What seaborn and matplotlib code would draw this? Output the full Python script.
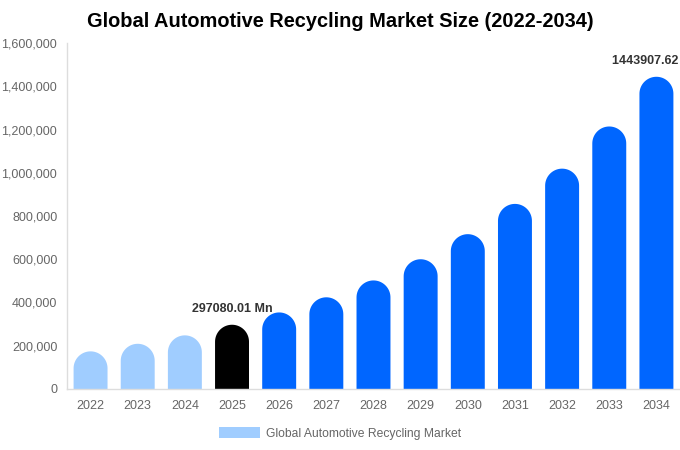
import numpy as np
import seaborn as sns
import pandas as pd
import matplotlib.pyplot as plt
from matplotlib.patches import Polygon, Patch
from matplotlib.ticker import FuncFormatter

years = ["2022", "2023", "2024", "2025", "2026", "2027", "2028",
         "2029", "2030", "2031", "2032", "2033", "2034"]
market_size = [174000, 209000, 248000, 297080.01, 354000, 424000, 502000,
               600000, 716000, 856000, 1019000, 1214000, 1443907.62]
label_years = ["2025", "2034"]

light_blue = "#a0cdff"
blue = "#0066ff"
colors = []
for y in years:
    if y < "2025":
        colors.append(light_blue)
    elif y == "2025":
        colors.append("#000000")
    else:
        colors.append(blue)

sns.set_theme(style="white")
plt.rcParams["font.family"] = ["Liberation Sans", "DejaVu Sans"]

fig = plt.figure(figsize=(6.8, 4.5), dpi=100)
ax = fig.add_axes([0.0985, 0.1356, 0.9015, 0.7688])

df = pd.DataFrame({"year": years, "value": market_size})
sns.barplot(data=df, x="year", y="value", hue="year", palette=colors,
            saturation=1, legend=False, width=0.72, ax=ax)
ax.set_ylim(0, 1600000)
ax.set_xlim(-0.5, len(years) - 0.5)

# swap the plain bars for ones with a rounded top
fig.canvas.draw()
px_x = ax.transData.transform((1, 0))[0] - ax.transData.transform((0, 0))[0]
px_y = ax.transData.transform((0, 1))[1] - ax.transData.transform((0, 0))[1]
aspect = px_x / px_y
t = np.linspace(0, np.pi, 40)
for bar in list(ax.patches):
    x = bar.get_x()
    w = bar.get_width()
    h = bar.get_height()
    c = bar.get_facecolor()
    bar.remove()
    rx = w / 2
    ry = rx * aspect
    cx = x + rx
    cy = h - ry
    pts = [(x + w, 0), (x + w, cy)]
    pts += list(zip(cx + rx * np.cos(t), cy + ry * np.sin(t)))
    pts += [(x, cy), (x, 0)]
    ax.add_patch(Polygon(pts, closed=True, facecolor=c, edgecolor="none"))

for i, y in enumerate(years):
    if y in label_years:
        ax.text(i, market_size[i] + 45000, "%.2f Mn" % market_size[i],
                ha="center", va="bottom", fontsize=9, fontweight="bold",
                color="#333333", clip_on=False)

ax.yaxis.set_major_formatter(FuncFormatter(lambda v, p: "{:,.0f}".format(v)))
ax.set_yticks(range(0, 1600001, 200000))
ax.tick_params(axis="both", length=0, labelsize=9, colors="#666666")
ax.tick_params(axis="x", pad=8)
ax.tick_params(axis="y", pad=7)
ax.set_xlabel("")
ax.set_ylabel("")
for s in ["top", "right"]:
    ax.spines[s].set_visible(False)
for s in ["left", "bottom"]:
    ax.spines[s].set_color("#dddddd")
    ax.spines[s].set_linewidth(1)

fig.text(0.5, 0.953, "Global Automotive Recycling Market Size (2022-2034)",
         ha="center", va="center", fontsize=14.4, fontweight="bold", color="#000000")

handle = Patch(facecolor=light_blue, edgecolor="none")
fig.legend([handle], ["Global Automotive Recycling Market"], loc="center",
           bbox_to_anchor=(0.5, 0.037), frameon=False, fontsize=8.7,
           labelcolor="#666666", handlelength=3.4, handleheight=1.0,
           handletextpad=0.5)

fig.savefig("out.png", dpi=100)
